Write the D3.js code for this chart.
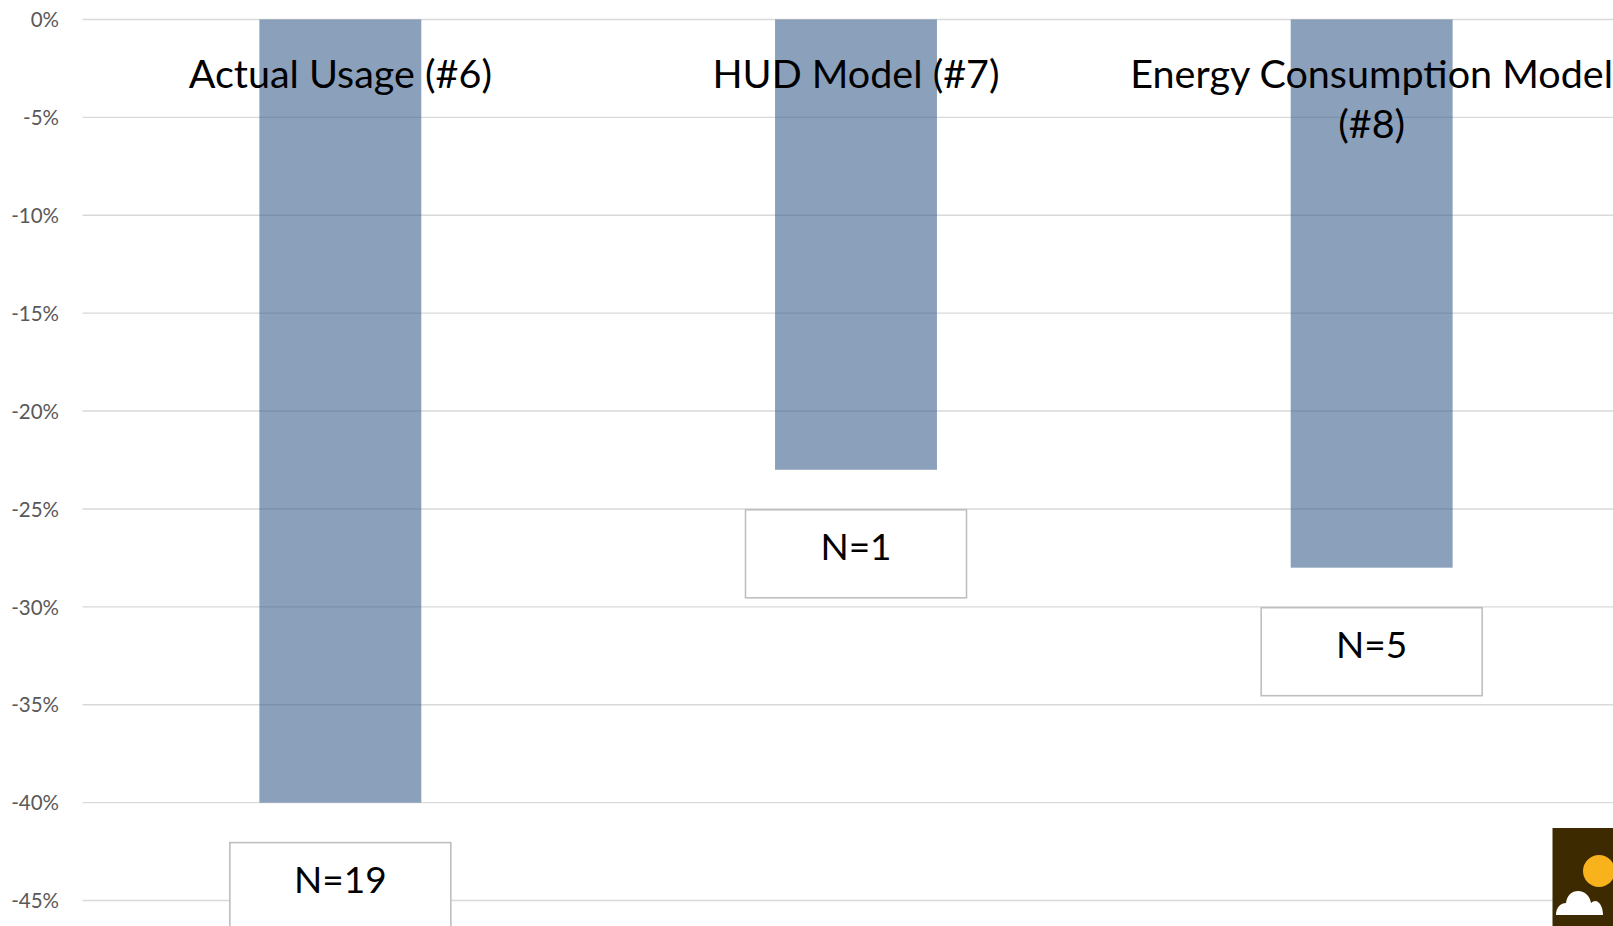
<!DOCTYPE html>
<html>
<head>
<meta charset="utf-8">
<script src="https://cdn.jsdelivr.net/npm/d3@7"></script>
<style>
  html, body { margin: 0; padding: 0; background: #ffffff; }
  svg { display: block; }
</style>
</head>
<body>
<svg id="chart" width="1613" height="926"></svg>
<script>
// Change in usage by estimation method
const categories = ["Actual Usage (#6)", "HUD Model (#7)", "Energy Consumption Model (#8)"];
const categoryLines = [["Actual Usage (#6)"], ["HUD Model (#7)"], ["Energy Consumption Model", "(#8)"]];
const values = [-40, -23, -28];            // percent change
const sampleSizes = [19, 1, 5];            // N per group
const tickValues = [0, -5, -10, -15, -20, -25, -30, -35, -40, -45];

const W = 1613, H = 926;
const svg = d3.select("#chart");

const x = d3.scaleBand()
  .domain(categories)
  .range([82.5, 1629.5])
  .paddingInner(0.686)
  .paddingOuter(0.343);

const y = d3.scaleLinear()
  .domain([0, -45])
  .range([19.5, 900.5]);

// Horizontal gridlines
svg.append("g")
  .selectAll("line")
  .data(tickValues)
  .join("line")
  .attr("x1", 82.5)
  .attr("x2", W)
  .attr("y1", d => y(d))
  .attr("y2", d => y(d))
  .attr("stroke", "#d9d9d9")
  .attr("stroke-width", 1.4);

// Y axis tick labels
const yAxis = d3.axisLeft(y)
  .tickValues(tickValues)
  .tickFormat(d => d + "%")
  .tickSize(0)
  .tickPadding(0);
const yg = svg.append("g")
  .attr("transform", "translate(59,0)")
  .call(yAxis);
yg.select(".domain").remove();
yg.selectAll("text")
  .attr("fill", "#595959")
  .attr("font-family", "Lato, 'Open Sans', sans-serif")
  .attr("font-size", 20.5)
  .attr("dy", "0.35em");

// Bars (semi-transparent so gridlines show through)
svg.append("g")
  .selectAll("rect")
  .data(categories)
  .join("rect")
  .attr("x", d => x(d))
  .attr("width", x.bandwidth())
  .attr("y", y(0))
  .attr("height", (d, i) => y(values[i]) - y(0))
  .attr("fill", "rgb(62,97,142)")
  .attr("fill-opacity", 0.6);

// Category labels near the zero line
const catG = svg.append("g")
  .attr("font-family", "Lato, 'Open Sans', sans-serif")
  .attr("font-size", 39.5)
  .attr("fill", "#000000")
  .attr("text-anchor", "middle");
categories.forEach((c, i) => {
  const t = catG.append("text")
    .attr("x", x(c) + x.bandwidth() / 2)
    .attr("y", 87.5);
  categoryLines[i].forEach((line, j) => {
    t.append("tspan")
      .attr("x", x(c) + x.bandwidth() / 2)
      .attr("dy", j === 0 ? 0 : 50)
      .text(line);
  });
});

// Sample size boxes beneath each bar
const boxW = 221, boxH = 88, boxGap = 40;
const nG = svg.append("g");
categories.forEach((c, i) => {
  const cx = x(c) + x.bandwidth() / 2;
  const top = y(values[i]) + boxGap;
  nG.append("rect")
    .attr("x", cx - boxW / 2)
    .attr("y", top)
    .attr("width", boxW)
    .attr("height", boxH)
    .attr("fill", "#ffffff")
    .attr("stroke", "#bfbfbf")
    .attr("stroke-width", 1.6);
  nG.append("text")
    .attr("x", cx)
    .attr("y", top + 50)
    .attr("text-anchor", "middle")
    .attr("font-family", "Lato, 'Open Sans', sans-serif")
    .attr("font-size", 37)
    .attr("fill", "#000000")
    .text("N=" + sampleSizes[i]);
});

// Corner badge: sun and cloud
const badge = svg.append("g");
badge.append("rect")
  .attr("x", 1552.5).attr("y", 828)
  .attr("width", W - 1552.5).attr("height", H - 828)
  .attr("fill", "#3d2a00");
badge.append("circle")
  .attr("cx", 1599).attr("cy", 871).attr("r", 16)
  .attr("fill", "#f8b21c");
badge.append("path")
  .attr("d", "M1556,915 C1556,907 1561,903 1566,903 C1567,895 1572,891 1578,891 C1585,891 1590,896 1591,903 C1593,901 1596,900 1598,902 C1601,904 1603,909 1603,915 Z")
  .attr("fill", "#ffffff");
</script>
</body>
</html>
